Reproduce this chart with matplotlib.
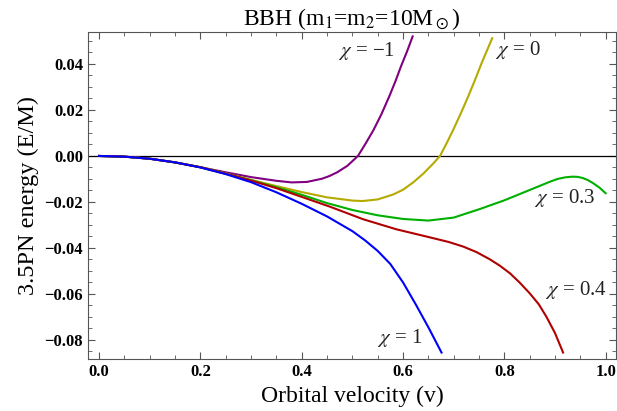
import matplotlib
matplotlib.use("Agg")
import matplotlib.pyplot as plt
from matplotlib.ticker import MultipleLocator

plt.rcParams['font.family'] = ['Liberation Serif', 'DejaVu Serif']
plt.rcParams['mathtext.fontset'] = 'stix'

# values
v_m1 = [0, 0.05, 0.1, 0.15, 0.2, 0.25, 0.3, 0.35, 0.38, 0.41, 0.44, 0.455, 0.47, 0.49, 0.511,
        0.525, 0.541, 0.557, 0.573, 0.585, 0.596, 0.608, 0.619]
e_m1 = [0, -0.0003, -0.0012, -0.0028, -0.0049, -0.0071, -0.0092, -0.0108, -0.0115, -0.0113, -0.0099, -0.0087, -0.0071, -0.0043, 0.0,
        0.0050, 0.0110, 0.0180, 0.0260, 0.0325, 0.0390, 0.0455, 0.0520]

v_0 = [0, 0.05, 0.1, 0.15, 0.2, 0.25, 0.3, 0.35, 0.4, 0.45, 0.5, 0.52, 0.55, 0.58, 0.6, 0.62, 0.64, 0.66,
       0.673, 0.686, 0.699, 0.714, 0.7285, 0.742, 0.755, 0.766, 0.776]
e_0 = [0, -0.0003, -0.0012, -0.0028, -0.0049, -0.0076, -0.0104, -0.0131, -0.0157, -0.0180, -0.0194, -0.0196, -0.0189, -0.0168, -0.0147, -0.0115, -0.0077, -0.0032,
       0.0, 0.0055, 0.0113, 0.0185, 0.0258, 0.0330, 0.0403, 0.0460, 0.0512]

v_03 = [0, 0.05, 0.1, 0.15, 0.2, 0.25, 0.3, 0.35, 0.4, 0.45, 0.5, 0.55, 0.6, 0.65, 0.7, 0.75, 0.8,
        0.85, 0.89, 0.905, 0.92, 0.935, 0.945, 0.955, 0.965, 0.975, 0.988, 1.0]
e_03 = [0, -0.0003, -0.0012, -0.0028, -0.0049, -0.0077, -0.0106, -0.0136, -0.0169, -0.0205, -0.0235, -0.0258, -0.0274, -0.0281, -0.0268, -0.0232, -0.0193,
        -0.0148, -0.0112, -0.0100, -0.0093, -0.0090, -0.0091, -0.0096, -0.0105, -0.0118, -0.0138, -0.0162]

v_04 = [0, 0.05, 0.1, 0.15, 0.2, 0.25, 0.3, 0.35, 0.4, 0.455, 0.521, 0.587, 0.653, 0.69, 0.7187, 0.745, 0.771,
        0.791, 0.811, 0.83, 0.85, 0.868, 0.883, 0.9, 0.916]
e_04 = [0, -0.0003, -0.0012, -0.0028, -0.0049, -0.0077, -0.0107, -0.0140, -0.0178, -0.0220, -0.0275, -0.0319, -0.0354, -0.0374, -0.0394, -0.0418, -0.0449,
        -0.0477, -0.0510, -0.0550, -0.0597, -0.0645, -0.0699, -0.0770, -0.0855]

v_1 = [0, 0.05, 0.1, 0.15, 0.2, 0.25, 0.3, 0.35, 0.4, 0.45, 0.5, 0.525, 0.55, 0.575, 0.6, 0.625, 0.65, 0.676]
e_1 = [0, -0.0003, -0.0012, -0.0028, -0.0050, -0.0079, -0.0114, -0.0158, -0.0208, -0.0263, -0.0327, -0.0367, -0.0413, -0.0470, -0.0550, -0.0645, -0.0745, -0.0855]

series = [
    (v_m1, e_m1, '#800080', r'$\chi$ = −1', 0.527, 0.0457),
    (v_0, e_0, '#b5aa00', r'$\chi$ = 0', 0.827, 0.046),
    (v_03, e_03, '#00b000', r'$\chi$ = 0.3', 0.919, -0.0183),
    (v_04, e_04, '#b00000', r'$\chi$ = 0.4', 0.941, -0.0583),
    (v_1, e_1, '#0000ff', r'$\chi$ = 1', 0.594, -0.0791),
]

fig = plt.figure(figsize=(6.17, 4.11), dpi=100)
ax = fig.add_axes([0.1426, 0.1265, 0.8554, 0.7956])

ax.axhline(0, color='black', lw=0.9)
for v, e, c, lab, tx, ty in series:
    ax.plot(v, e, color=c, lw=1.5)
    ax.text(tx, ty, lab, fontsize=15, ha='center', va='center', color='#222222')

ax.set_xlim(-0.022, 1.02)
ax.set_ylim(-0.0883, 0.0539)
ax.xaxis.set_major_locator(MultipleLocator(0.2))
ax.xaxis.set_minor_locator(MultipleLocator(0.05))
ax.yaxis.set_major_locator(MultipleLocator(0.02))
ax.yaxis.set_minor_locator(MultipleLocator(0.005))
ax.xaxis.set_major_formatter(lambda x, p: f"{x:.1f}")
ax.yaxis.set_major_formatter(lambda y, p: f"{y:.2f}".replace('-', '−'))
ax.tick_params(which='both', direction='in', top=True, right=True, color='#555555')
ax.tick_params(which='major', length=5, width=0.8, labelsize=12)
ax.tick_params(which='minor', length=3, width=0.6)
for lbl in ax.get_xticklabels() + ax.get_yticklabels():
    lbl.set_fontweight('bold')
for s in ax.spines.values():
    s.set_color('#555555')

ax.set_title(r'BBH (m$_1$=m$_2$=10M$_\odot$)', fontsize=17, pad=4)
ax.set_xlabel('Orbital velocity (v)', fontsize=17)
ax.set_ylabel('3.5PN energy (E/M)', fontsize=17.5)

fig.savefig('out.png', dpi=100)
